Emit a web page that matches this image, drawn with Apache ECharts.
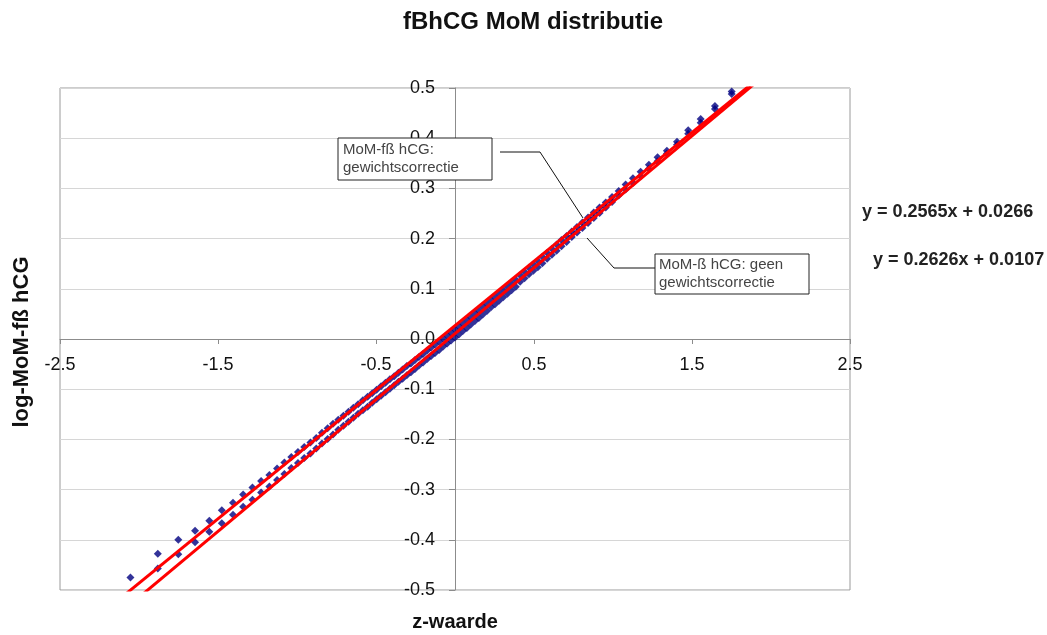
<!DOCTYPE html>
<html><head><meta charset="utf-8">
<script src="https://cdn.jsdelivr.net/npm/echarts@6/dist/echarts.min.js"></script>
<style>html,body{margin:0;padding:0;background:#fff}#c{width:1047px;height:635px}</style>
</head><body><div id="c"></div>
<script>
// z-values (x positions of the quantile points)
const zValues = [
-2.326,-2.054,-1.881,-1.751,-1.645,-1.555,-1.476,-1.405,-1.341,-1.282,
-1.227,-1.175,-1.126,-1.080,-1.036,-0.994,-0.954,-0.915,-0.878,-0.842,
-0.806,-0.772,-0.739,-0.706,-0.674,-0.643,-0.613,-0.583,-0.553,-0.524,
-0.496,-0.468,-0.440,-0.412,-0.385,-0.358,-0.332,-0.305,-0.279,-0.253,
-0.228,-0.202,-0.176,-0.151,-0.126,-0.100,-0.075,-0.050,-0.025,0.000,
0.025,0.050,0.075,0.100,0.126,0.151,0.176,0.202,0.228,0.253,
0.279,0.305,0.332,0.358,0.385,0.412,0.440,0.468,0.496,0.524,
0.553,0.583,0.613,0.643,0.674,0.706,0.739,0.772,0.806,0.842,
0.878,0.915,0.954,0.994,1.036,1.080,1.126,1.175,1.227,1.282,
1.341,1.405,1.476,1.555,1.645,1.751,1.881,2.054,2.326];
// log-MoM, with weight correction
const yWeightCorr = [
null,-0.475,-0.428,-0.400,-0.382,-0.362,-0.341,-0.326,-0.310,-0.296,
-0.283,-0.271,-0.258,-0.246,-0.235,-0.225,-0.215,-0.206,-0.197,-0.187,
-0.178,-0.169,-0.161,-0.153,-0.145,-0.137,-0.130,-0.122,-0.115,-0.108,
-0.101,-0.094,-0.087,-0.080,-0.074,-0.067,-0.061,-0.054,-0.049,-0.042,
-0.036,-0.030,-0.023,-0.017,-0.011,-0.005,0.001,0.007,0.013,0.019,
0.025,0.031,0.038,0.044,0.051,0.057,0.064,0.070,0.077,0.083,
0.090,0.097,0.104,0.111,0.118,0.127,0.134,0.142,0.149,0.156,
0.164,0.172,0.180,0.188,0.197,0.205,0.214,0.223,0.232,0.242,
0.252,0.262,0.272,0.283,0.295,0.308,0.320,0.333,0.347,0.362,
0.375,0.393,0.416,0.438,0.464,0.493,null,null,null];
// log-MoM, without weight correction
const yNoCorr = [
null,null,-0.457,-0.429,-0.405,-0.384,-0.367,-0.350,-0.334,-0.320,
-0.306,-0.294,-0.281,-0.269,-0.257,-0.247,-0.237,-0.228,-0.218,-0.208,
-0.199,-0.190,-0.181,-0.173,-0.165,-0.157,-0.149,-0.142,-0.135,-0.127,
-0.120,-0.113,-0.106,-0.099,-0.092,-0.085,-0.079,-0.072,-0.066,-0.060,
-0.053,-0.047,-0.040,-0.034,-0.028,-0.022,-0.015,-0.009,-0.003,0.003,
0.009,0.016,0.022,0.029,0.036,0.042,0.049,0.056,0.063,0.069,
0.076,0.083,0.090,0.097,0.104,0.114,0.121,0.129,0.136,0.143,
0.151,0.160,0.168,0.176,0.185,0.193,0.203,0.212,0.221,0.231,
0.241,0.251,0.262,0.273,0.286,0.298,0.311,0.324,0.339,0.354,
0.369,0.387,0.409,0.431,0.458,0.488,null,null,null];
// trend lines (y = a x + b)
const trendSlopes = [0.2565, 0.2626];
const trendIntercepts = [0.0266, 0.0107];
const trendXRange = [-2.4, 2.4];
const equations = ['y = 0.2565x + 0.0266', 'y = 0.2626x + 0.0107'];
const labelsBox = ['MoM-fß hCG:\ngewichtscorrectie', 'MoM-ß hCG: geen\ngewichtscorrectie'];

function pairs(ys){ const out=[]; zValues.forEach((z,i)=>{ if(ys[i]!==null) out.push([z, ys[i]]); }); return out; }
function trend(i){ return trendXRange.map(x=>[x, trendSlopes[i]*x + trendIntercepts[i]]); }

const chart = echarts.init(document.getElementById('c'));
const F = 'Liberation Sans, Arial, sans-serif';
const scatterStyle = {type:'scatter', symbol:'diamond', symbolSize:8, itemStyle:{color:'#000080'}, clip:true, z:2};
const lineStyle = {type:'line', symbol:'none', lineStyle:{color:'#ff0000', width:3}, clip:true, z:3, silent:true};

chart.setOption({
  animation:false,
  backgroundColor:'#fff',
  title:{text:'fBhCG MoM distributie', top:5, left:528, textAlign:'center',
    textStyle:{fontFamily:F, fontWeight:'bold', fontSize:24, color:'#111'}},
  grid:{left:60, right:197, top:88, bottom:45, show:true, borderColor:'#9a9a9a', borderWidth:1},
  xAxis:{type:'value', min:-2.5, max:2.5, interval:1, position:'bottom', offset:-251,
    axisLine:{onZero:false, lineStyle:{color:'#8c8c8c', width:1}},
    axisTick:{show:true, length:5, lineStyle:{color:'#8c8c8c'}},
    axisLabel:{fontFamily:F, fontSize:18, color:'#111', margin:17, formatter:v=>v.toFixed(1)},
    splitLine:{show:false}},
  yAxis:{type:'value', min:-0.5, max:0.5, interval:0.1, position:'left', offset:-395,
    axisLine:{onZero:false, lineStyle:{color:'#8c8c8c', width:1}},
    axisTick:{show:true, length:6, lineStyle:{color:'#8c8c8c'}},
    axisLabel:{fontFamily:F, fontSize:18, color:'#111', margin:20,
      formatter:v=>(Math.abs(v)<1e-9?0:v).toFixed(1)},
    splitLine:{show:true, lineStyle:{color:'#d6d6d6', width:1}}},
  series:[
    Object.assign({name:'MoM-fß hCG: gewichtscorrectie', data:pairs(yWeightCorr)}, scatterStyle),
    Object.assign({name:'MoM-ß hCG: geen gewichtscorrectie', data:pairs(yNoCorr)}, scatterStyle),
    Object.assign({name:'trend 1', data:trend(0)}, lineStyle),
    Object.assign({name:'trend 2', data:trend(1)}, lineStyle)
  ],
  graphic:[
    {type:'text', x:22, y:342, rotation:Math.PI/2, style:{text:'log-MoM-fß hCG', fontFamily:F, fontWeight:'bold', fontSize:22, fill:'#111', align:'center', verticalAlign:'middle'}},
    {type:'text', x:455, y:622, style:{text:'z-waarde', fontFamily:F, fontWeight:'bold', fontSize:20, fill:'#111', align:'center', verticalAlign:'middle'}},
    {type:'text', x:862, y:212, style:{text:equations[0], fontFamily:F, fontWeight:'bold', fontSize:18, fill:'#222', align:'left', verticalAlign:'middle'}},
    {type:'text', x:873, y:260, style:{text:equations[1], fontFamily:F, fontWeight:'bold', fontSize:18, fill:'#222', align:'left', verticalAlign:'middle'}},
    {type:'polyline', shape:{points:[[500,152],[540,152],[583,218]]}, style:{stroke:'#111', lineWidth:1, fill:null}, z:10},
    {type:'polyline', shape:{points:[[655,268],[614,268],[587,238]]}, style:{stroke:'#111', lineWidth:1, fill:null}, z:10},
    {type:'rect', shape:{x:338, y:138, width:154, height:42}, style:{fill:'#fff', stroke:'#222', lineWidth:1}, z:10},
    {type:'text', x:343, y:159, style:{text:labelsBox[0], fontFamily:F, fontSize:15, lineHeight:18, fill:'#444', align:'left', verticalAlign:'middle'}, z:11},
    {type:'rect', shape:{x:655, y:254, width:154, height:40}, style:{fill:'#fff', stroke:'#222', lineWidth:1}, z:10},
    {type:'text', x:659, y:274, style:{text:labelsBox[1], fontFamily:F, fontSize:15, lineHeight:18, fill:'#444', align:'left', verticalAlign:'middle'}, z:11}
  ]
});
</script></body></html>
